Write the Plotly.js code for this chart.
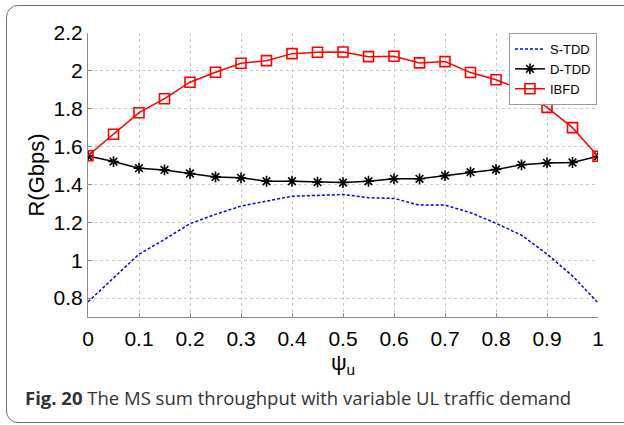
<!DOCTYPE html>
<html>
<head>
<meta charset="utf-8">
<script src="https://cdn.plot.ly/plotly-3.0.1.min.js"></script>
<style>
  html, body { margin: 0; padding: 0; background: #fff; }
  #frame { position: absolute; left: 6px; top: 5px; width: 640px; height: 416px;
           border: 1.5px solid #6e6e6e; border-radius: 12px; z-index: 0; }
  #chart { position: absolute; left: 0; top: 0; width: 624px; height: 425px; z-index: 1; }
</style>
</head>
<body>
<div id="frame"></div>
<div id="chart"></div>
<script>
const psi = [0, 0.05, 0.1, 0.15, 0.2, 0.25, 0.3, 0.35, 0.4, 0.45, 0.5,
             0.55, 0.6, 0.65, 0.7, 0.75, 0.8, 0.85, 0.9, 0.95, 1];
const sTDD = [0.78, 0.905, 1.032, 1.11, 1.193, 1.242, 1.286, 1.312, 1.338, 1.342, 1.347,
              1.33, 1.326, 1.291, 1.291, 1.251, 1.195, 1.132, 1.032, 0.917, 0.775];
const dTDD = [1.55, 1.521, 1.486, 1.477, 1.458, 1.44, 1.435, 1.417, 1.417, 1.412, 1.41,
              1.417, 1.43, 1.43, 1.447, 1.465, 1.479, 1.504, 1.514, 1.516, 1.549];
const ibfd = [1.552, 1.665, 1.779, 1.853, 1.94, 1.993, 2.04, 2.054, 2.091, 2.098, 2.1,
              2.075, 2.077, 2.042, 2.049, 1.991, 1.953, 1.9, 1.807, 1.7, 1.549];
const xTicks = [0, 0.1, 0.2, 0.3, 0.4, 0.5, 0.6, 0.7, 0.8, 0.9, 1];
const xTickText = ['0', '0.1', '0.2', '0.3', '0.4', '0.5', '0.6', '0.7', '0.8', '0.9', '1'];
const yTicks = [0.8, 1, 1.2, 1.4, 1.6, 1.8, 2, 2.2];
const yTickText = ['0.8', '1', '1.2', '1.4', '1.6', '1.8', '2', '2.2'];
const names = ['S-TDD', 'D-TDD', 'IBFD'];
const captionBold = 'Fig. 20';
const captionText = ' The MS sum throughput with variable UL traffic demand';

const traces = [
  { x: psi, y: sTDD, name: names[0], mode: 'lines',
    line: { color: '#0000ff', width: 1.5, dash: '3px,2px' } },
  { x: psi, y: dTDD, name: names[1], mode: 'lines+markers',
    line: { color: '#000000', width: 1.5 },
    marker: { symbol: 'asterisk-open', size: 9, line: { color: '#000', width: 1.6 } } },
  { x: psi, y: ibfd, name: names[2], mode: 'lines+markers',
    line: { color: '#ff0000', width: 1.5 },
    marker: { symbol: 'square-open', size: 10, color: '#ff0000', line: { color: '#ff0000', width: 1.6 } } }
];

const axisCommon = {
  showline: true, linecolor: '#8a8a8a', linewidth: 1,
  ticks: 'inside', ticklen: 4, tickcolor: '#8a8a8a',
  showgrid: true, gridcolor: '#c8c8c8', griddash: 'dot', gridwidth: 1,
  zeroline: false, mirror: false,
  tickfont: { family: 'Liberation Sans, Arial, sans-serif', size: 21, color: '#000' }
};

const layout = {
  width: 624, height: 425,
  margin: { l: 88, r: 26, t: 33, b: 108 },
  paper_bgcolor: 'rgba(0,0,0,0)', plot_bgcolor: '#fff',
  showlegend: true,
  xaxis: Object.assign({}, axisCommon, {
    range: [0, 1], tickvals: xTicks, ticktext: xTickText, ticklabelstandoff: 3,
    title: { text: 'ψ<sub>u</sub>', standoff: 4,
             font: { family: 'Liberation Sans, Arial, sans-serif', size: 22, color: '#000' } }
  }),
  yaxis: Object.assign({}, axisCommon, {
    range: [0.7, 2.2], tickvals: yTicks, ticktext: yTickText, ticklabelstandoff: 0,
    title: { text: 'R(Gbps)', standoff: 2,
             font: { family: 'Liberation Sans, Arial, sans-serif', size: 22, color: '#000' } }
  }),
  legend: {
    x: 0.998, y: 1.0, xanchor: 'right', yanchor: 'top',
    bgcolor: '#fff', bordercolor: '#9a9a9a', borderwidth: 1,
    font: { family: 'Liberation Sans, Arial, sans-serif', size: 13, color: '#000' },
    itemwidth: 30, tracegroupgap: 0
  },
  annotations: [{
    xref: 'paper', yref: 'paper', x: -0.128, y: -0.285, xanchor: 'left', yanchor: 'middle',
    showarrow: false, align: 'left',
    text: '<b>' + captionBold + '</b>' + captionText,
    font: { family: 'Open Sans, Noto Sans, sans-serif', size: 18.5, color: '#333' }
  }]
};

Plotly.newPlot('chart', traces, layout, { displayModeBar: false, staticPlot: true });
</script>
</body>
</html>
